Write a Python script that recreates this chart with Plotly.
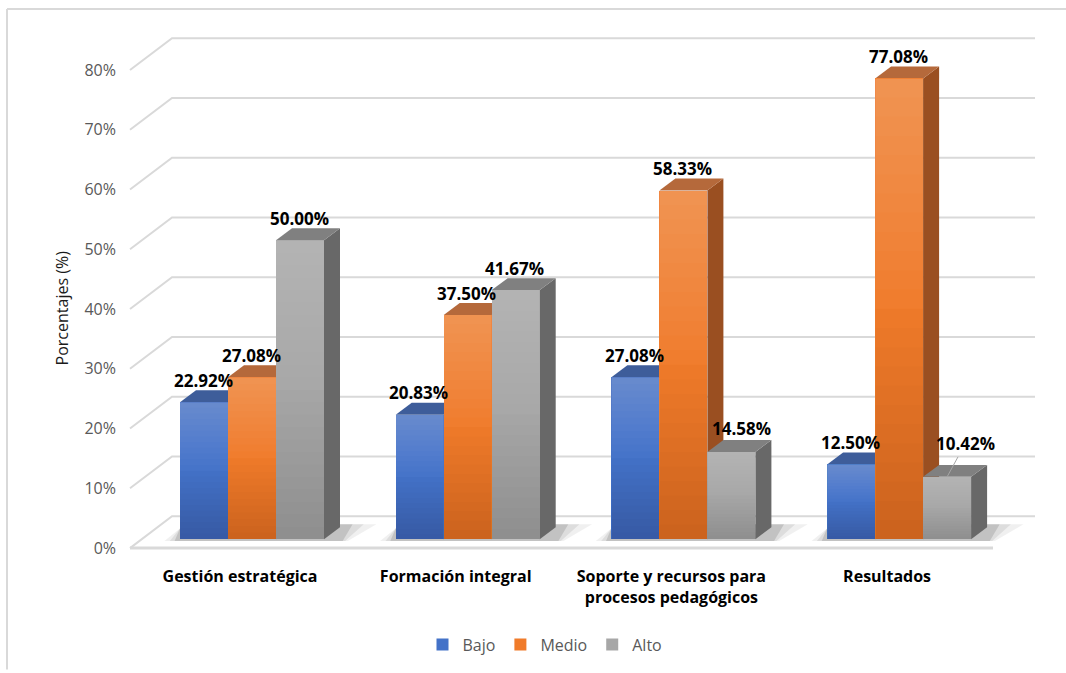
import plotly.graph_objects as go

# ---------------- data ----------------
categories = ["Gestión estratégica", "Formación integral",
              "Soporte y recursos para<br>procesos pedagógicos", "Resultados"]
series_names = ["Bajo", "Medio", "Alto"]
bajo = [22.92, 20.83, 27.08, 12.50]
medio = [27.08, 37.50, 58.33, 77.08]
alto = [50.00, 41.67, 14.58, 10.42]
y_ticks = [0, 10, 20, 30, 40, 50, 60, 70, 80]
y_ticktext = ["0%", "10%", "20%", "30%", "40%", "50%", "60%", "70%", "80%"]

# ---------------- geometry / style constants ----------------
W, H = 1066, 673
L, R, T, B = 125, 1045, 25, 565          # plot area in pixels
CAT0_PX, CAT_STEP = 252, 215.7           # pixel of first group centre, pixels per category
Y0_PX, PX_PCT = 551, 6.01                # pixel of 0 % on front plane, pixels per %

def xu(px):
    return px / CAT_STEP

def yu(px):
    return px / PX_PCT

x_range = [(L - CAT0_PX) / CAT_STEP, (R - CAT0_PX) / CAT_STEP]
y_range = [(Y0_PX - B) / PX_PCT, (Y0_PX - T) / PX_PCT]

BW = xu(48)            # bar width
BDX, BDY = xu(16), yu(12)   # bar depth offset
BASE = yu(9)           # bars sit slightly back on the floor
WDX, WDY = xu(42), yu(32)   # wall depth
X_FL = (130 - CAT0_PX) / CAT_STEP
X_FR = (993 - CAT0_PX) / CAT_STEP

front_cols = ["#4372c8", "#f07b2a", "#a7a7a7"]
top_cols = ["#3e5d9a", "#b5693b", "#808080"]
side_cols = ["#2d4c88", "#9a4f21", "#686868"]
GRID = "#d9d9d9"
LABEL_FONT = dict(family="Open Sans", size=17, color="#000000", weight="bold")

values = [bajo, medio, alto]

fig = go.Figure()

# front faces of bars
for k, (name, vals) in enumerate(zip(series_names, values)):
    xs = [i + (k - 1) * BW for i in range(len(categories))]
    fig.add_trace(go.Bar(
        x=xs, y=vals, base=BASE, width=BW, name=name,
        marker=dict(color=front_cols[k], line=dict(width=0)),
        hovertemplate=name + ": %{y:.2f}%<extra></extra>",
    ))

shapes = []
# walls / gridlines
for v in y_ticks:
    shapes.append(dict(
        type="path", xref="x", yref="y", layer="between",
        path=f"M {X_FL},{v} L {X_FL + WDX},{v + WDY} L {x_range[1] - xu(10)},{v + WDY}",
        line=dict(color=GRID, width=2)))
# floor front edge
shapes.append(dict(type="path", xref="x", yref="y", layer="between",
                   path=f"M {X_FL},0 L {X_FR},0",
                   line=dict(color=GRID, width=3)))

# shadows on the floor
for i in range(len(categories)):
    xl = i - 1.5 * BW
    xr = i + 1.5 * BW + BDX
    for s, a in [(xu(26), 0.06), (xu(17), 0.08), (xu(9), 0.12)]:
        shapes.append(dict(
            type="path", xref="x", yref="y", layer="between",
            path=(f"M {xl - s * 0.6},{BASE - yu(2)} L {xr + s * 0.3},{BASE - yu(2)} "
                  f"L {xr + s * 1.4},{BASE + BDY + yu(3)} L {xl + s * 0.2},{BASE + BDY + yu(3)} Z"),
            fillcolor=f"rgba(0,0,0,{a})", line=dict(width=0)))

# side and top faces
for i in range(len(categories)):
    for k in range(3):
        v = values[k][i]
        xc = i + (k - 1) * BW
        xl, xr = xc - BW / 2, xc + BW / 2
        yb, yt = BASE, BASE + v
        shapes.append(dict(
            type="path", xref="x", yref="y", layer="between",
            path=f"M {xr},{yb} L {xr + BDX},{yb + BDY} L {xr + BDX},{yt + BDY} L {xr},{yt} Z",
            fillcolor=side_cols[k], line=dict(width=0)))
        shapes.append(dict(
            type="path", xref="x", yref="y", layer="between",
            path=f"M {xl},{yt} L {xr},{yt} L {xr + BDX},{yt + BDY} L {xl + BDX},{yt + BDY} Z",
            fillcolor=top_cols[k], line=dict(width=0)))

# smooth vertical shading over the front faces (lighter top, darker bottom):
# overlapping translucent rectangles anchored at the top / bottom (no seams)
N_STEPS = 12
for i in range(len(categories)):
    for k in range(3):
        v = values[k][i]
        xc = i + (k - 1) * BW
        for j in range(1, N_STEPS + 1):
            frac = 0.5 * j / N_STEPS
            shapes.append(dict(
                type="rect", xref="x", yref="y", layer="above",
                x0=xc - BW / 2, x1=xc + BW / 2,
                y0=BASE + v * (1 - frac), y1=BASE + v,
                fillcolor="rgba(255,255,255,0.018)", line=dict(width=0)))
            shapes.append(dict(
                type="rect", xref="x", yref="y", layer="above",
                x0=xc - BW / 2, x1=xc + BW / 2,
                y0=BASE, y1=BASE + v * frac,
                fillcolor="rgba(0,0,0,0.012)", line=dict(width=0)))

# chart border (top and left)
shapes.append(dict(type="line", xref="paper", yref="paper",
                   x0=(7 - L) / (R - L), x1=(W - L) / (R - L),
                   y0=(B - 9) / (B - T), y1=(B - 9) / (B - T),
                   line=dict(color=GRID, width=2)))
shapes.append(dict(type="line", xref="paper", yref="paper",
                   x0=(7 - L) / (R - L), x1=(7 - L) / (R - L),
                   y0=(B - 9) / (B - T), y1=(B - H) / (B - T),
                   line=dict(color=GRID, width=2)))

# data labels
label_nudge = {(2, 2): (11, -2)}       # pixel nudges (dx, dy) for crowded labels
leader = {(3, 2): (18, -33)}           # label with leader line: offset from bar top
annotations = []
for i in range(len(categories)):
    for k in range(3):
        v = values[k][i]
        xc = i + (k - 1) * BW
        txt = f"{v:.2f}%"
        if (i, k) in leader:
            ax, ay = leader[(i, k)]
            annotations.append(dict(
                x=xc, y=BASE + v, xref="x", yref="y", text=txt,
                showarrow=True, arrowhead=0, arrowwidth=1, arrowcolor="#a6a6a6",
                ax=ax, ay=ay, standoff=0, font=LABEL_FONT))
            continue
        dx, dy = label_nudge.get((i, k), (0, 0))
        annotations.append(dict(
            x=xc - xu(1) + xu(dx), y=BASE + v + BDY + yu(10) - yu(dy),
            xref="x", yref="y", text=txt, showarrow=False,
            xanchor="center", yanchor="middle", font=LABEL_FONT))

# axis title
annotations.append(dict(
    text="Porcentajes (%)", textangle=-90, showarrow=False,
    xref="paper", yref="paper", x=(62 - L) / (R - L), y=(B - 310) / (B - T),
    xanchor="center", yanchor="middle",
    font=dict(family="Open Sans", size=16, color="#1a1a1a")))

fig.update_layout(
    width=W, height=H, autosize=False,
    margin=dict(l=L, r=W - R, t=T, b=H - B),
    paper_bgcolor="white", plot_bgcolor="white",
    barmode="overlay", bargap=0,
    shapes=shapes, annotations=annotations,
    showlegend=True,
    legend=dict(orientation="h", x=(545 - L) / (R - L), y=(B - 648) / (B - T),
                xanchor="center", yanchor="middle",
                font=dict(family="Open Sans", size=16, color="#595959"),
                itemwidth=30, bgcolor="rgba(0,0,0,0)"),
    xaxis=dict(range=x_range, showgrid=False, zeroline=False, showline=False,
               tickmode="array", tickvals=[i - xu(12) for i in range(len(categories))],
               ticktext=categories, ticks="", ticklabelstandoff=3,
               tickfont=dict(family="Open Sans", size=16, color="#000000", weight="bold"),
               fixedrange=True),
    yaxis=dict(range=y_range, showgrid=False, zeroline=False, showline=False,
               tickmode="array", tickvals=y_ticks, ticktext=y_ticktext, ticks="",
               ticklabelstandoff=8,
               tickfont=dict(family="Open Sans", size=16, color="#595959"),
               fixedrange=True),
)

fig.write_html("out.html")
